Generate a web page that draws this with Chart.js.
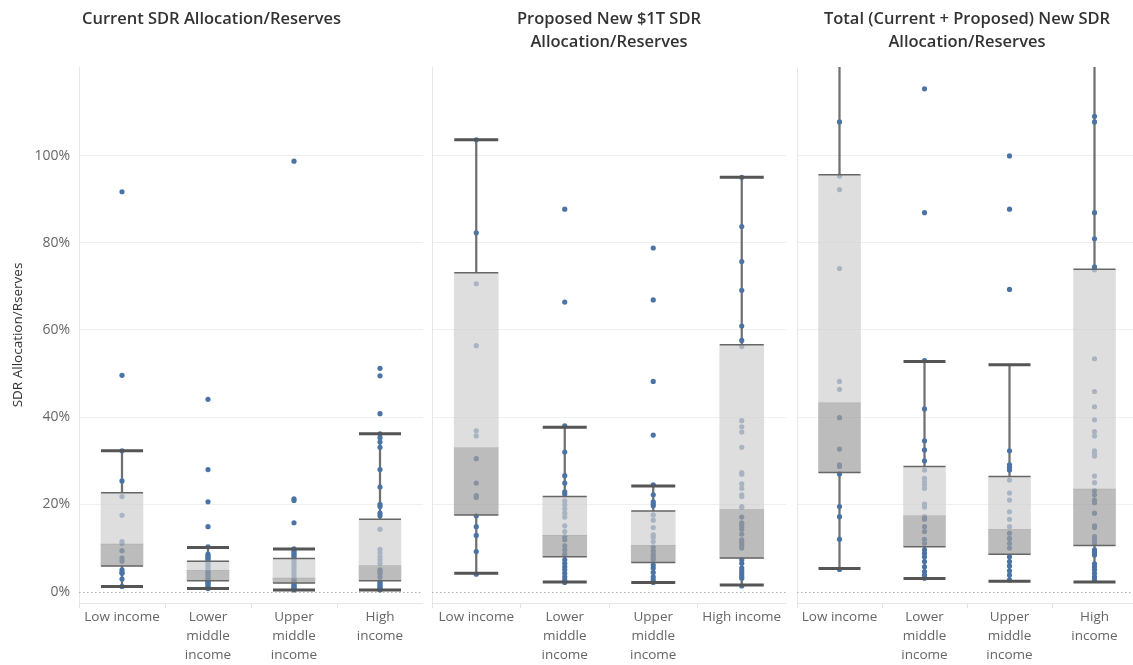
<!DOCTYPE html>
<html><head><meta charset="utf-8">
<script src="https://cdn.jsdelivr.net/npm/chart.js@4.4.1/dist/chart.umd.min.js"></script>
<style>
html,body{margin:0;padding:0;background:#fff;width:1133px;height:665px;overflow:hidden;position:relative}
canvas{position:absolute;top:0}
</style></head><body>
<canvas id="c1" width="423" height="665" style="left:0px"></canvas>
<canvas id="c2" width="354" height="665" style="left:432px"></canvas>
<canvas id="c3" width="340" height="665" style="left:797px"></canvas>
<script>
// ---------- texts ----------
const tickLabelsP1 = [['Low income'], ['Lower', 'middle', 'income'], ['Upper', 'middle', 'income'], ['High', 'income']];
const tickLabelsP2 = [['Low income'], ['Lower', 'middle', 'income'], ['Upper', 'middle', 'income'], ['High income']];
const tickLabelsP3 = [['Low income'], ['Lower', 'middle', 'income'], ['Upper', 'middle', 'income'], ['High', 'income']];
const yTickValues = [0, 20, 40, 60, 80, 100];
const titleP1 = 'Current SDR Allocation/Reserves';
const titleP2 = ['Proposed New $1T SDR', 'Allocation/Reserves'];
const titleP3 = ['Total (Current + Proposed) New SDR', 'Allocation/Reserves'];
const yAxisTitle = 'SDR Allocation/Rserves';

// ---------- panel 1: current (values in %) ----------
const p1Low = [91.7, 49.6, 32.3, 25.4, 21.8, 17.5, 11.5, 11.1, 9.4, 7.7, 7.0, 5.0, 4.4, 4.2, 2.9, 1.2];
const p1LowerMid = [44.1, 28.0, 20.6, 14.9, 10.3, 8.6, 8.2, 7.9, 7.5, 7.1, 6.5, 6.0, 5.5, 5.0, 4.6, 4.2, 3.8, 3.3, 2.9, 2.5, 2.2, 1.9, 1.6, 1.3, 1.0, 0.7];
const p1UpperMid = [98.7, 21.3, 20.9, 15.8, 9.8, 9.3, 8.9, 8.5, 8.1, 7.6, 7.0, 6.4, 5.8, 5.1, 4.5, 3.9, 3.3, 2.8, 2.4, 2.0, 1.6, 1.3, 1.0, 0.7, 0.4];
const p1High = [51.2, 49.5, 40.8, 36.2, 35.3, 34.3, 33.1, 28.0, 24.0, 20.0, 19.5, 18.0, 17.4, 14.3, 9.7, 8.9, 8.0, 7.3, 6.5, 5.0, 4.7, 4.2, 3.4, 2.3, 1.9, 1.5, 1.2, 0.9, 0.6, 0.4];
const p1Q1 = [5.9, 2.5, 2.0, 2.5];
const p1Median = [10.9, 4.9, 3.1, 6.0];
const p1Q3 = [22.7, 7.0, 7.6, 16.6];
const p1WhiskerLow = [1.2, 0.7, 0.4, 0.4];
const p1WhiskerHigh = [32.3, 10.1, 9.8, 36.2];

// ---------- panel 2: proposed new $1T ----------
const p2Low = [103.6, 82.3, 70.6, 56.4, 36.9, 35.7, 30.5, 24.9, 22.0, 21.6, 17.4, 14.9, 12.9, 9.2, 4.0];
const p2LowerMid = [87.7, 66.4, 38.0, 32.0, 26.6, 24.9, 22.9, 22.4, 20.8, 19.9, 19.0, 18.0, 17.1, 15.1, 13.8, 12.6, 11.9, 10.5, 9.6, 8.6, 7.3, 6.5, 5.7, 5.0, 4.2, 3.4, 2.7, 2.1];
const p2UpperMid = [78.8, 66.9, 48.2, 35.9, 24.5, 22.2, 20.6, 20.1, 19.7, 17.6, 16.4, 14.7, 13.0, 12.5, 11.5, 10.3, 9.4, 8.6, 8.0, 7.4, 6.1, 5.4, 4.4, 3.4, 2.7, 2.1];
const p2High = [95.0, 83.7, 75.7, 69.1, 60.9, 57.6, 56.2, 39.2, 37.8, 36.6, 33.1, 27.3, 26.9, 24.7, 23.7, 22.2, 21.8, 19.5, 19.3, 17.1, 15.8, 15.5, 14.9, 14.3, 13.2, 11.9, 11.3, 10.6, 10.0, 7.3, 6.5, 5.4, 4.8, 4.2, 3.6, 3.1, 1.3];
const p2Q1 = [17.6, 8.0, 6.7, 7.7];
const p2Median = [33.0, 12.9, 10.6, 18.8];
const p2Q3 = [73.1, 21.8, 18.5, 56.6];
const p2WhiskerLow = [4.2, 2.2, 2.1, 1.5];
const p2WhiskerHigh = [103.6, 37.7, 24.2, 95.0];

// ---------- panel 3: total ----------
const p3Low = [107.7, 95.3, 92.2, 74.1, 48.2, 46.4, 39.9, 32.7, 29.1, 28.7, 27.0, 19.5, 17.2, 12.0, 5.1];
const p3LowerMid = [115.3, 86.9, 53.0, 41.9, 34.6, 32.5, 30.0, 27.9, 26.0, 25.2, 24.5, 23.7, 20.1, 19.4, 17.2, 16.6, 14.9, 13.8, 12.0, 11.1, 9.6, 8.8, 8.0, 6.9, 5.7, 4.6, 3.8, 3.1];
const p3UpperMid = [99.9, 87.7, 69.3, 32.3, 29.1, 28.5, 27.9, 25.6, 22.6, 21.0, 18.3, 16.6, 14.9, 13.4, 12.2, 11.1, 10.0, 8.0, 6.9, 5.9, 4.8, 3.8, 2.7];
const p3High = [109.0, 107.7, 86.9, 80.9, 74.5, 73.8, 53.4, 45.9, 42.4, 39.4, 36.7, 35.7, 32.3, 31.6, 31.1, 26.5, 25.0, 23.2, 22.2, 21.0, 20.4, 18.0, 15.1, 14.7, 12.6, 11.9, 11.1, 9.6, 9.0, 8.4, 6.4, 5.7, 5.0, 4.2, 3.4, 2.7];
const p3Q1 = [27.3, 10.3, 8.6, 10.6];
const p3Median = [43.3, 17.4, 14.3, 23.5];
const p3Q3 = [95.6, 28.7, 26.4, 73.9];
const p3WhiskerLow = [5.3, 3.0, 2.4, 2.2];
const p3WhiskerHigh = [130, 52.8, 52.0, 130];

// ---------- drawing ----------
Chart.defaults.font.family = "'Open Sans', 'Noto Sans', sans-serif";
Chart.defaults.color = '#666';
const Y_MIN = -2.6, Y_MAX = 120.3;
const DOT_COLOR = '#4a74a6';

const zeroLine = {
  id: 'zeroLine',
  beforeDatasetsDraw(chart) {
    const {ctx, chartArea: a, scales: {y}} = chart;
    const py = Math.round(y.getPixelForValue(0)) + 0.5;
    ctx.save();
    ctx.strokeStyle = '#b0b0b0';
    ctx.lineWidth = 1;
    ctx.setLineDash([1.5, 2.5]);
    ctx.beginPath();
    ctx.moveTo(a.left, py);
    ctx.lineTo(a.right, py);
    ctx.stroke();
    ctx.restore();
  }
};

function build(id, cfg) {
  const n = cfg.labels.length;
  const idx = [...Array(n).keys()];
  const dots = [];
  cfg.points.forEach((arr, i) => arr.forEach(v => dots.push({x: i, y: v})));
  const qPts = [], capPts = [];
  idx.forEach(i => {
    qPts.push({x: i, y: cfg.q1[i]}, {x: i, y: cfg.q3[i]});
    [cfg.lo[i], cfg.hi[i]].forEach(v => { if (v <= Y_MAX) capPts.push({x: i, y: v}); });
  });
  const W = cfg.boxW;
  const bar = {type: 'bar', xAxisID: 'x', yAxisID: 'y', grouped: false, borderWidth: 0, borderSkipped: false};
  const pts = {type: 'scatter', xAxisID: 'x', yAxisID: 'y', parsing: false};
  return new Chart(document.getElementById(id), {
    type: 'bar',
    data: {
      labels: cfg.labels,
      datasets: [
        {...bar, data: idx.map(i => [cfg.lo[i], cfg.q1[i]]), barThickness: 1.6, backgroundColor: '#707070', order: 5},
        {...bar, data: idx.map(i => [cfg.q3[i], cfg.hi[i]]), barThickness: 1.6, backgroundColor: '#707070', order: 5},
        {...pts, data: dots, pointRadius: 2.6, pointBackgroundColor: DOT_COLOR, pointBorderWidth: 0, order: 4},
        {...bar, data: idx.map(i => [cfg.q1[i], cfg.med[i]]), barThickness: W, backgroundColor: 'rgba(160,160,160,0.7)', order: 3},
        {...bar, data: idx.map(i => [cfg.med[i], cfg.q3[i]]), barThickness: W, backgroundColor: 'rgba(208,208,208,0.7)', order: 3},
        {...pts, data: qPts, pointStyle: 'line', pointRadius: W / 2, pointBorderWidth: 1.5, pointBorderColor: '#666', order: 2},
        {...pts, data: capPts, pointStyle: 'line', pointRadius: W / 2, pointBorderWidth: 3, pointBorderColor: '#555', order: 1}
      ]
    },
    options: {
      responsive: false, animation: false, events: [],
      layout: {autoPadding: false, padding: 0},
      plugins: {
        legend: {display: false}, tooltip: {enabled: false},
        title: {display: true, text: cfg.title, color: '#333', font: {size: 16.5, weight: '600', lineHeight: 23 / 16.5}, padding: cfg.titlePad}
      },
      scales: {
        x: {
          type: 'category', offset: true,
          grid: {display: true, offset: true, drawOnChartArea: false, drawTicks: true, tickLength: 5, color: '#e2e2e2'},
          border: {display: true, color: '#e6e6e6'},
          ticks: {autoSkip: false, maxRotation: 0, minRotation: 0, padding: 0, color: '#666', font: {size: 13.5, lineHeight: 19 / 13.5}},
          afterFit: s => { s.height = 62; }
        },
        y: {
          type: 'linear', min: Y_MIN, max: Y_MAX,
          afterBuildTicks: s => { s.ticks = yTickValues.map(v => ({value: v})); },
          grid: {drawTicks: false, color: c => (c.tick && c.tick.value === 0) ? 'rgba(0,0,0,0)' : '#efefef'},
          border: {display: true, color: '#e6e6e6'},
          ticks: {display: cfg.showY, padding: 9, color: '#666', font: {size: 14}, callback: v => v + '%'},
          title: {display: cfg.showY, text: yAxisTitle, color: '#333', font: {size: 13.5}, padding: {top: 10.4, bottom: 0}},
          afterFit: s => { s.width = cfg.showY ? 79 : 0; }
        }
      }
    },
    plugins: [zeroLine]
  });
}

build('c1', {labels: tickLabelsP1, points: [p1Low, p1LowerMid, p1UpperMid, p1High], q1: p1Q1, med: p1Median, q3: p1Q3, lo: p1WhiskerLow, hi: p1WhiskerHigh, title: titleP1, showY: true, boxW: 42, titlePad: {top: 7.5, bottom: 36.5}});
build('c2', {labels: tickLabelsP2, points: [p2Low, p2LowerMid, p2UpperMid, p2High], q1: p2Q1, med: p2Median, q3: p2Q3, lo: p2WhiskerLow, hi: p2WhiskerHigh, title: titleP2, showY: false, boxW: 44, titlePad: {top: 8, bottom: 13}});
build('c3', {labels: tickLabelsP3, points: [p3Low, p3LowerMid, p3UpperMid, p3High], q1: p3Q1, med: p3Median, q3: p3Q3, lo: p3WhiskerLow, hi: p3WhiskerHigh, title: titleP3, showY: false, boxW: 42, titlePad: {top: 8, bottom: 13}});
</script>
</body></html>
